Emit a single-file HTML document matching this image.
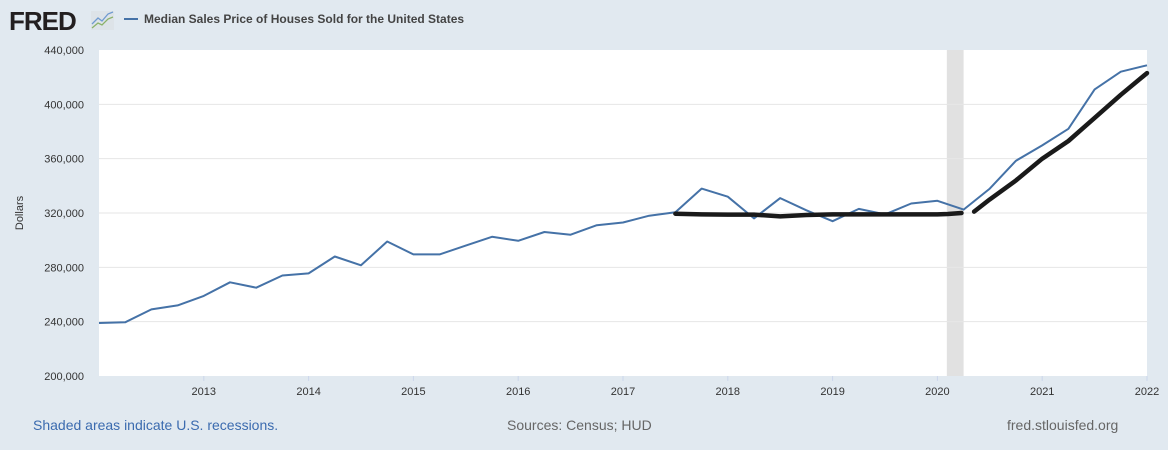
<!DOCTYPE html>
<html><head><meta charset="utf-8"><style>
body{margin:0;background:#e1e9f0;font-family:"Liberation Sans",Arial,sans-serif;}
#wrap{position:relative;width:1168px;height:450px;overflow:hidden;background:#e1e9f0;}
</style></head><body>
<div id="wrap">
<svg id="chart" width="1168" height="450"></svg>
</div>
<script>
const years = [2013,2014,2015,2016,2017,2018,2019,2020,2021,2022];
const yTicks = [200000,240000,280000,320000,360000,400000,440000];
const dates = [];
for (let y=2012;y<=2022;y++) for (let q=0;q<4;q++) if (!(y===2022&&q>0)) dates.push(y+q/4);
const prices = [239000,239500,249000,252000,259000,269000,265000,274000,275500,288000,281500,299000,289500,289500,296000,302500,299500,306000,304000,311000,313000,318000,320500,338000,332000,316000,331000,322000,314000,323000,319000,327000,329000,322500,338000,358500,369800,382000,411000,424000,428700];
const recessions = [[2020.09,2020.25]];
const annoA_x = [2017.5,2017.75,2018,2018.25,2018.5,2018.75,2019,2019.25,2019.5,2019.75,2020,2020.1,2020.23];
const annoA_y = [319500,319000,318800,318800,317500,318500,319000,319000,319000,319000,319000,319300,320000];
const annoB_x = [2020.35,2020.5,2020.75,2021,2021.25,2021.5,2021.75,2022];
const annoB_y = [321000,330000,344000,360000,373000,390000,407000,423000];

const X0=99,X1=1147,Y0=376,Y1=50;
const xs=d=>X0+(d-2012)/(2022-2012)*(X1-X0);
const ys=v=>Y0-(v-200000)/(440000-200000)*(Y0-Y1);
const NS='http://www.w3.org/2000/svg';
const svg=document.getElementById('chart');
function mk(t,a,p){const e=document.createElementNS(NS,t);for(const k in a)e.setAttribute(k,a[k]);(p||svg).appendChild(e);return e;}

let plot=mk('rect',{x:X0,y:Y1,width:X1-X0,height:Y0-Y1,fill:'#fff'});



recessions.forEach(r=>{const e=mk('rect',{x:xs(r[0]),y:Y1,width:xs(r[1])-xs(r[0]),height:Y0-Y1,fill:'#e1e1e1'});

});

yTicks.forEach(v=>{
 if(v>200000&&v<440000){const g=mk('line',{x1:X0,x2:X1,y1:ys(v),y2:ys(v),stroke:'#e6e6e6','stroke-width':1});
 
 }
 const t=mk('text',{x:84,y:ys(v)+4,'text-anchor':'end','font-size':11,fill:'#333'});
 t.textContent=v.toLocaleString('en-US');
 
 
});
years.forEach(y=>{
 const l=mk('line',{x1:xs(y),x2:xs(y),y1:Y0,y2:Y0+5,stroke:'#ccd6eb'});
 
 
 const t=mk('text',{x:xs(y),y:395,'text-anchor':'middle','font-size':11,fill:'#333'});
 t.textContent=y;
 
 
});
let yt=mk('text',{x:23,y:213,'text-anchor':'middle','font-size':11,fill:'#333',transform:'rotate(-90 23 213)'});
yt.textContent='Dollars';



let d=dates.map((t,i)=>(i?'L':'M')+xs(t).toFixed(1)+','+ys(prices[i]).toFixed(1)).join('');
let ln=mk('path',{d:d,fill:'none',stroke:'#4572a7','stroke-width':2,'stroke-linejoin':'round'});



function anno(ax,ay,name){const p=ax.map((t,i)=>(i?'L':'M')+xs(t).toFixed(1)+','+ys(ay[i]).toFixed(1)).join('');
 const e=mk('path',{d:p,fill:'none',stroke:'#1a1a1a','stroke-width':4.5,'stroke-linecap':'round','stroke-linejoin':'round'});
 
 }
anno(annoA_x,annoA_y,'annotation-flat-line');
anno(annoB_x,annoB_y,'annotation-rising-line');

// header
let logo=mk('text',{x:9,y:30,'font-size':26,'font-weight':'bold',fill:'#231f20','letter-spacing':-1});
logo.textContent='FRED';


let ic=mk('g',{});


mk('rect',{x:91,y:11,width:23,height:19,fill:'#dde3e8'},ic);
mk('path',{d:'M92,24 L98,18 L102,21 L108,14 L113,12',fill:'none',stroke:'#6f9ad0','stroke-width':1.3},ic);
mk('path',{d:'M92,28 L98,23 L102,25 L108,19 L113,17',fill:'none',stroke:'#8bb26a','stroke-width':1.3},ic);
let lg=mk('line',{x1:124,x2:138,y1:19,y2:19,stroke:'#4572a7','stroke-width':2});


let tt=mk('text',{x:144,y:23,'font-size':12,'font-weight':'bold',fill:'#444'});
tt.textContent='Median Sales Price of Houses Sold for the United States';



// footer
let f1=mk('text',{x:33,y:430,'font-size':14,fill:'#3b6baf'});
f1.textContent='Shaded areas indicate U.S. recessions.';


let f2=mk('text',{x:507,y:430,'font-size':14,fill:'#666'});
f2.textContent='Sources: Census; HUD';


let f3=mk('text',{x:1007,y:430,'font-size':14,fill:'#666'});
f3.textContent='fred.stlouisfed.org';


</script>
</body></html>
